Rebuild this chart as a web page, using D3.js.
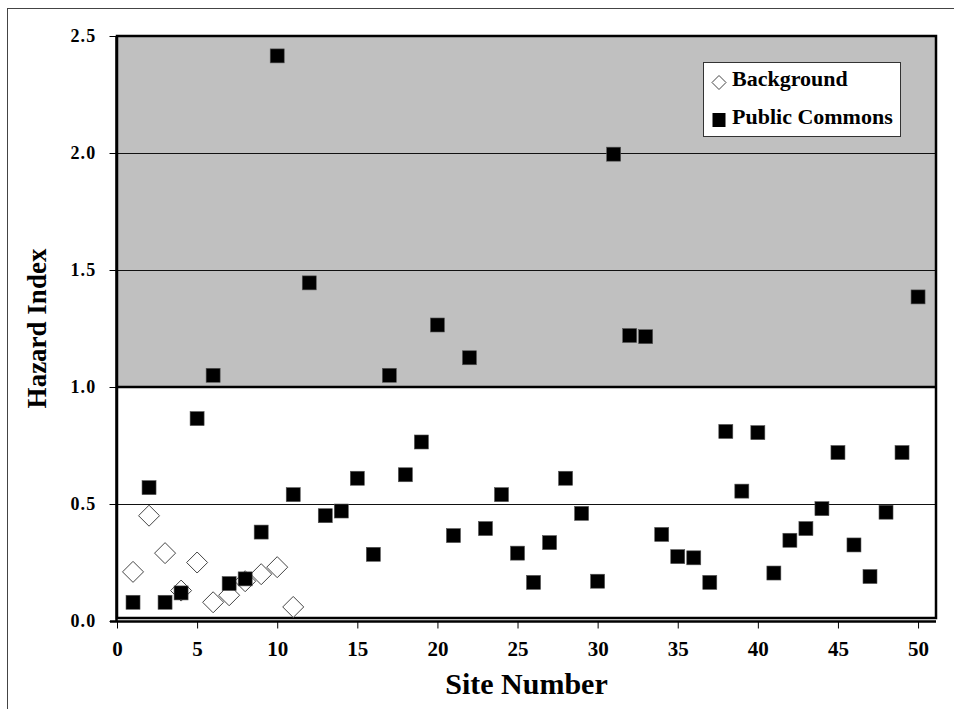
<!DOCTYPE html>
<html>
<head>
<meta charset="utf-8">
<script src="https://cdn.jsdelivr.net/npm/d3@7"></script>
<style>
  body { margin: 0; background: #fff; }
  text { font-family: 'Liberation Serif', 'Times New Roman', serif; font-weight: bold; }
</style>
</head>
<body>
<svg id="viz"></svg>
<script>
const bgSites = [1, 2, 3, 4, 5, 6, 7, 8, 9, 10, 11];
const bgValues = [0.21, 0.45, 0.29, 0.13, 0.25, 0.08, 0.11, 0.17, 0.2, 0.23, 0.06];

const pcSites = [
  1, 2, 3, 4, 5, 6, 7, 8, 9, 10, 11, 12, 13, 14, 15, 16, 17, 18, 19, 20, 21, 22, 23, 24, 25,
  26, 27, 28, 29, 30, 31, 32, 33, 34, 35, 36, 37, 38, 39, 40, 41, 42, 43, 44, 45, 46, 47, 48, 49, 50,
];
const pcValues = [
  0.08, 0.57, 0.08, 0.12, 0.865, 1.05, 0.16, 0.18, 0.38, 2.415,
  0.54, 1.445, 0.45, 0.47, 0.61, 0.285, 1.05, 0.625, 0.765, 1.265,
  0.365, 1.125, 0.395, 0.54, 0.29, 0.165, 0.335, 0.61, 0.46, 0.17,
  1.995, 1.22, 1.215, 0.37, 0.275, 0.27, 0.165, 0.81, 0.555, 0.805,
  0.205, 0.345, 0.395, 0.48, 0.72, 0.325, 0.19, 0.465, 0.72, 1.385,
];

const xTicks = [0, 5, 10, 15, 20, 25, 30, 35, 40, 45, 50];
const yTicks = [0, 0.5, 1.0, 1.5, 2.0, 2.5];
const gridValues = [0.5, 1.5, 2.0];
const threshold = 1.0;
const legendNames = ['Background', 'Public Commons'];

const W = 954, H = 709;
const pLeft = 117, pRight = 936, pTop = 36, pBottom = 621;

const svg = d3.select('#viz').attr('width', W).attr('height', H);

const x = d3.scaleLinear().domain([0, 51.12]).range([pLeft, pRight]);
const y = d3.scaleLinear().domain([0, 2.5]).range([pBottom, pTop]);

// outer frame
svg.append('rect')
  .attr('x', 7.5).attr('y', 8.5)
  .attr('width', W).attr('height', H)
  .attr('fill', 'none').attr('stroke', '#444').attr('stroke-width', 1);

// shaded area above hazard index 1
svg.append('rect')
  .attr('x', pLeft).attr('y', y(2.5))
  .attr('width', pRight - pLeft).attr('height', y(threshold) - y(2.5))
  .attr('fill', '#c0c0c0');

// gridlines
svg.append('g')
  .selectAll('line')
  .data(gridValues)
  .join('line')
  .attr('x1', pLeft).attr('x2', pRight)
  .attr('y1', (d) => Math.round(y(d)) + 0.5)
  .attr('y2', (d) => Math.round(y(d)) + 0.5)
  .attr('stroke', '#111').attr('stroke-width', 1);

svg.append('line')
  .attr('x1', pLeft).attr('x2', pRight)
  .attr('y1', y(threshold)).attr('y2', y(threshold))
  .attr('stroke', '#000').attr('stroke-width', 2.5);

// plot border
svg.append('rect')
  .attr('x', pLeft).attr('y', pTop)
  .attr('width', pRight - pLeft).attr('height', pBottom - 3 - pTop)
  .attr('fill', 'none').attr('stroke', '#000').attr('stroke-width', 2.5);

// axes
const xAxis = d3.axisBottom(x).tickValues(xTicks).tickSize(7).tickPadding(13)
  .tickFormat(d3.format('d'));
const gx = svg.append('g').attr('transform', 'translate(0,' + (pBottom + 0.5) + ')').call(xAxis);
gx.select('.domain').attr('d', 'M' + (pLeft - 7) + ',0H' + pRight).attr('stroke-width', 2.5);
gx.selectAll('.tick line').attr('stroke-width', 1);
gx.selectAll('.tick text').attr('font-size', 21).attr('font-family', 'Liberation Serif').attr('fill', '#000');

const yAxis = d3.axisLeft(y).tickValues(yTicks).tickSize(7).tickPadding(13)
  .tickFormat(d3.format('.1f'));
const gy = svg.append('g').attr('transform', 'translate(' + (pLeft - 0.5) + ',0)').call(yAxis);
gy.select('.domain').attr('d', 'M0,' + pTop + 'V' + (pBottom + 1)).attr('stroke-width', 2.5);
gy.selectAll('.tick text')
  .attr('font-size', 18).attr('font-family', 'Liberation Serif')
  .attr('letter-spacing', 1.2).attr('fill', '#000');

// markers: background first, public commons on top
const diamond = (r) => 'M0,' + -r + 'L' + r + ',0L0,' + r + 'L' + -r + ',0Z';

svg.append('g')
  .selectAll('path')
  .data(bgValues)
  .join('path')
  .attr('transform', (d, i) => 'translate(' + x(bgSites[i]) + ',' + y(d) + ')')
  .attr('d', diamond(10.5))
  .attr('fill', '#fff')
  .attr('stroke', '#444')
  .attr('stroke-width', 1);

svg.append('g')
  .selectAll('rect')
  .data(pcValues)
  .join('rect')
  .attr('x', (d, i) => x(pcSites[i]) - 7)
  .attr('y', (d) => y(d) - 7)
  .attr('width', 14)
  .attr('height', 14)
  .attr('fill', '#000')
  .attr('stroke', '#555')
  .attr('stroke-width', 0.6);

// legend
const lg = svg.append('g').attr('transform', 'translate(703,62)');
lg.append('rect')
  .attr('x', 0.5).attr('y', 0.5).attr('width', 197).attr('height', 74)
  .attr('fill', '#fff').attr('stroke', '#333').attr('stroke-width', 1);
lg.append('path')
  .attr('transform', 'translate(16,20.5)')
  .attr('d', diamond(7))
  .attr('fill', '#fff').attr('stroke', '#444').attr('stroke-width', 1);
lg.append('rect')
  .attr('x', 9.5).attr('y', 51).attr('width', 13).attr('height', 14)
  .attr('fill', '#000');
lg.selectAll('text.name')
  .data(legendNames)
  .join('text')
  .attr('class', 'name')
  .attr('x', 29)
  .attr('y', (d, i) => 24 + i * 38)
  .attr('font-size', 22)
  .text((d) => d);

// axis titles
svg.append('text')
  .attr('text-anchor', 'middle')
  .attr('x', (pLeft + pRight) / 2)
  .attr('y', 694)
  .attr('font-size', 30)
  .text('Site Number');

svg.append('text')
  .attr('text-anchor', 'middle')
  .attr('transform', 'translate(46,' + (pTop + pBottom) / 2 + ') rotate(-90)')
  .attr('font-size', 27)
  .text('Hazard Index');
</script>
</body>
</html>
